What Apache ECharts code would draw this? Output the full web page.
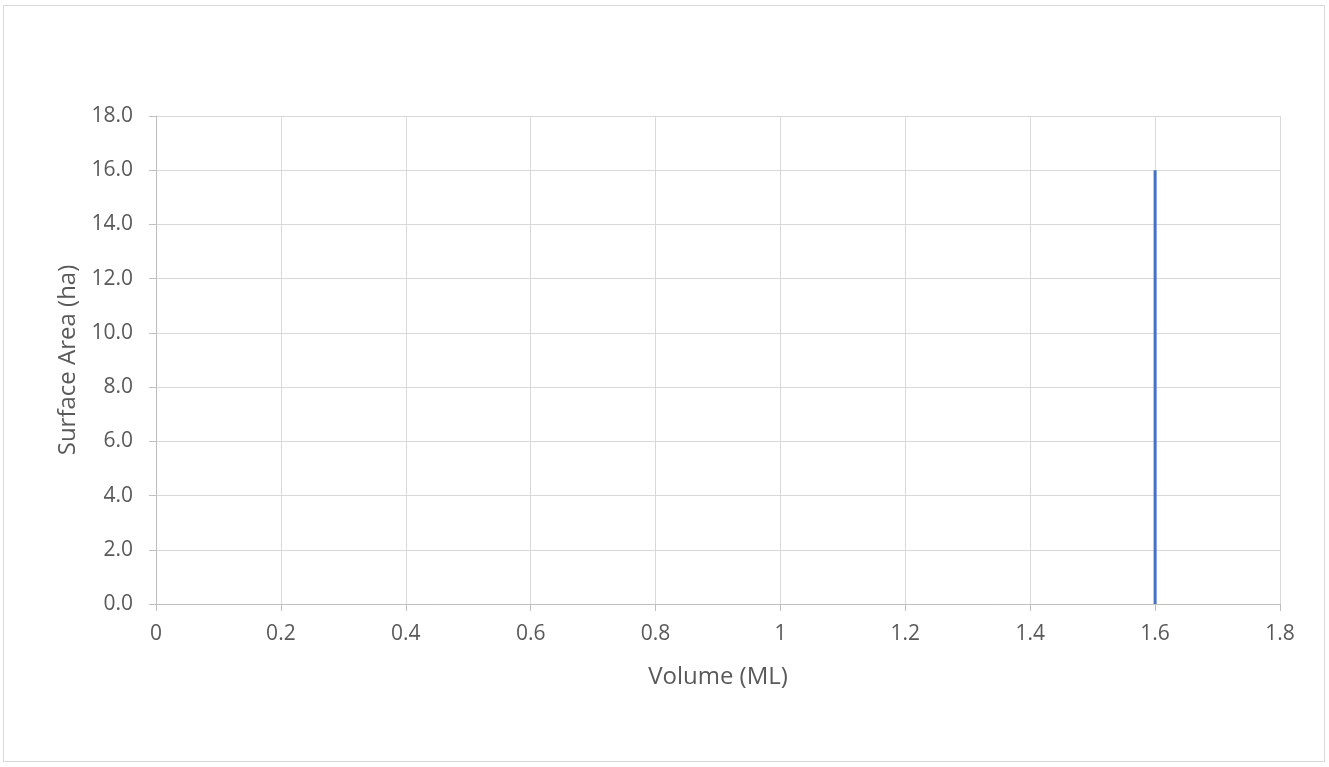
<!DOCTYPE html>
<html>
<head>
<meta charset="utf-8">
<script src="https://cdn.jsdelivr.net/npm/echarts@6/dist/echarts.min.js"></script>
<style>
html,body{margin:0;padding:0;background:#fff;}
#frame{position:absolute;left:3px;top:5px;width:1322px;height:757px;border:1px solid #d9d9d9;box-sizing:border-box;}
#c{position:absolute;left:0;top:0;width:1329px;height:767px;}
</style>
</head>
<body>
<div id="frame"></div>
<div id="c"></div>
<script>
const volume = [1.6, 1.6];
const surfaceArea = [0, 16];
const xName = 'Volume (ML)';
const yName = 'Surface Area (ha)';

const chart = echarts.init(document.getElementById('c'));
const txt = {color:'#595959', fontSize:21, fontFamily:'"Open Sans", "Liberation Sans", sans-serif'};
chart.setOption({
  animation:false,
  grid:{left:156, right:49, top:116, bottom:163},
  xAxis:{
    type:'value', min:0, max:1.8, interval:0.2,
    name:xName, nameLocation:'middle', nameGap:61,
    nameTextStyle:Object.assign({}, txt, {fontSize:24}),
    axisLine:{show:true, lineStyle:{color:'#bfbfbf', width:1}},
    axisTick:{show:true, length:7, lineStyle:{color:'#bfbfbf'}},
    axisLabel:Object.assign({}, txt, {margin:20, formatter:v=>String(Math.round(v*10)/10)}),
    splitLine:{show:true, lineStyle:{color:'#d9d9d9', width:1}}
  },
  yAxis:{
    type:'value', min:0, max:18, interval:2,
    name:yName, nameLocation:'middle', nameGap:74, nameRotate:90,
    nameTextStyle:Object.assign({}, txt, {fontSize:24}),
    axisLine:{show:true, lineStyle:{color:'#bfbfbf', width:1}},
    axisTick:{show:true, length:7, lineStyle:{color:'#bfbfbf'}},
    axisLabel:Object.assign({}, txt, {margin:23, formatter:v=>v.toFixed(1)}),
    splitLine:{show:true, lineStyle:{color:'#d9d9d9', width:1}}
  },
  series:[{
    type:'line',
    data:volume.map((v,i)=>[v, surfaceArea[i]]),
    showSymbol:false,
    lineStyle:{color:'#4472c4', width:3},
    itemStyle:{color:'#4472c4'}
  }]
});
</script>
</body>
</html>
